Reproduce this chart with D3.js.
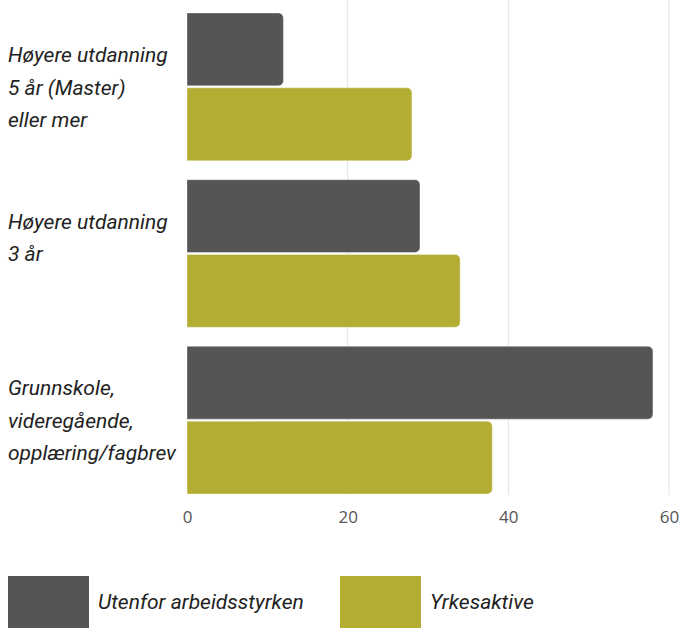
<!DOCTYPE html>
<html>
<head>
<meta charset="utf-8">
<script src="https://cdn.jsdelivr.net/npm/d3@7"></script>
<style>
  html, body { margin: 0; padding: 0; background: #fff; }
  svg { display: block; }
</style>
</head>
<body>
<svg id="chart" width="683" height="629"></svg>
<script>
// Education level groups (each label split into display lines)
const categories = [
  "Høyere utdanning|5 år (Master)|eller mer",
  "Høyere utdanning|3 år",
  "Grunnskole,|videregående,|opplæring/fagbrev"
];
const seriesNames = ["Utenfor arbeidsstyrken", "Yrkesaktive"];
const utenforValues = [12, 29, 58];
const yrkesaktiveValues = [28, 34, 38];
const xTicks = [0, 20, 40, 60];
const seriesColors = ["#555555", "#b4ad34"];

const svg = d3.select("#chart");
const plotLeft = 187, plotRight = 669, plotTop = 13, plotBottom = 494;

const x = d3.scaleLinear().domain([0, 60]).range([plotLeft, plotRight]);
const y = d3.scaleBand().domain(categories).range([plotTop, plotBottom]).paddingInner(0.114).paddingOuter(0);
const ySub = d3.scaleBand().domain(seriesNames).range([0, y.bandwidth()]).paddingInner(0.027);

// Vertical grid lines
svg.append("g")
  .selectAll("line")
  .data(xTicks.filter(t => t > 0))
  .join("line")
  .attr("x1", d => x(d)).attr("x2", d => x(d))
  .attr("y1", 0).attr("y2", plotBottom + 1)
  .attr("stroke", "#e0e0e0")
  .attr("stroke-width", 1);

// Bars with rounded right ends
const rows = categories.flatMap((c, i) => [
  { cat: c, series: seriesNames[0], value: utenforValues[i], color: seriesColors[0] },
  { cat: c, series: seriesNames[1], value: yrkesaktiveValues[i], color: seriesColors[1] }
]);

function barPath(x0, y0, x1, h, r) {
  const w = x1 - x0;
  r = Math.min(r, w, h / 2);
  return `M${x0},${y0}H${x1 - r}A${r},${r} 0 0 1 ${x1},${y0 + r}V${y0 + h - r}A${r},${r} 0 0 1 ${x1 - r},${y0 + h}H${x0}Z`;
}

svg.append("g")
  .selectAll("path")
  .data(rows)
  .join("path")
  .attr("d", d => barPath(x(0), y(d.cat) + ySub(d.series), x(d.value), ySub.bandwidth(), 5))
  .attr("fill", d => d.color)
  .attr("stroke", "rgba(255,255,255,0.35)")
  .attr("stroke-width", 1);

// X axis tick labels
const xAxis = d3.axisBottom(x).tickValues(xTicks).tickSize(0).tickPadding(0);
const axisG = svg.append("g").attr("transform", `translate(0,${plotBottom})`).call(xAxis);
axisG.select(".domain").remove();
axisG.selectAll("text")
  .attr("dy", null)
  .attr("y", 29)
  .attr("font-family", "'Open Sans', sans-serif")
  .attr("font-size", 17)
  .attr("fill", "#555");

// Category labels, anchored below the top of each group
const lineH = 32.5;
const labels = svg.append("g")
  .selectAll("text")
  .data(categories)
  .join("text")
  .attr("font-family", "Roboto, sans-serif")
  .attr("font-style", "italic")
  .attr("font-size", 21)
  .attr("fill", "#222");
labels.each(function(d) {
  const lines = d.split("|");
  const firstBase = y(d) + 49;
  d3.select(this).selectAll("tspan")
    .data(lines)
    .join("tspan")
    .attr("x", 8)
    .attr("y", (l, i) => firstBase + i * lineH)
    .text(l => l);
});

// Legend
const legendX = [8, 340];
const legend = svg.append("g")
  .selectAll("g")
  .data(seriesNames)
  .join("g")
  .attr("transform", (d, i) => `translate(${legendX[i]},576)`);
legend.append("rect")
  .attr("width", 81).attr("height", 52)
  .attr("fill", (d, i) => seriesColors[i]);
legend.append("text")
  .attr("x", 90).attr("y", 33)
  .attr("font-family", "Roboto, sans-serif")
  .attr("font-style", "italic")
  .attr("font-size", 21)
  .attr("fill", "#222")
  .text(d => d);
</script>
</body>
</html>
